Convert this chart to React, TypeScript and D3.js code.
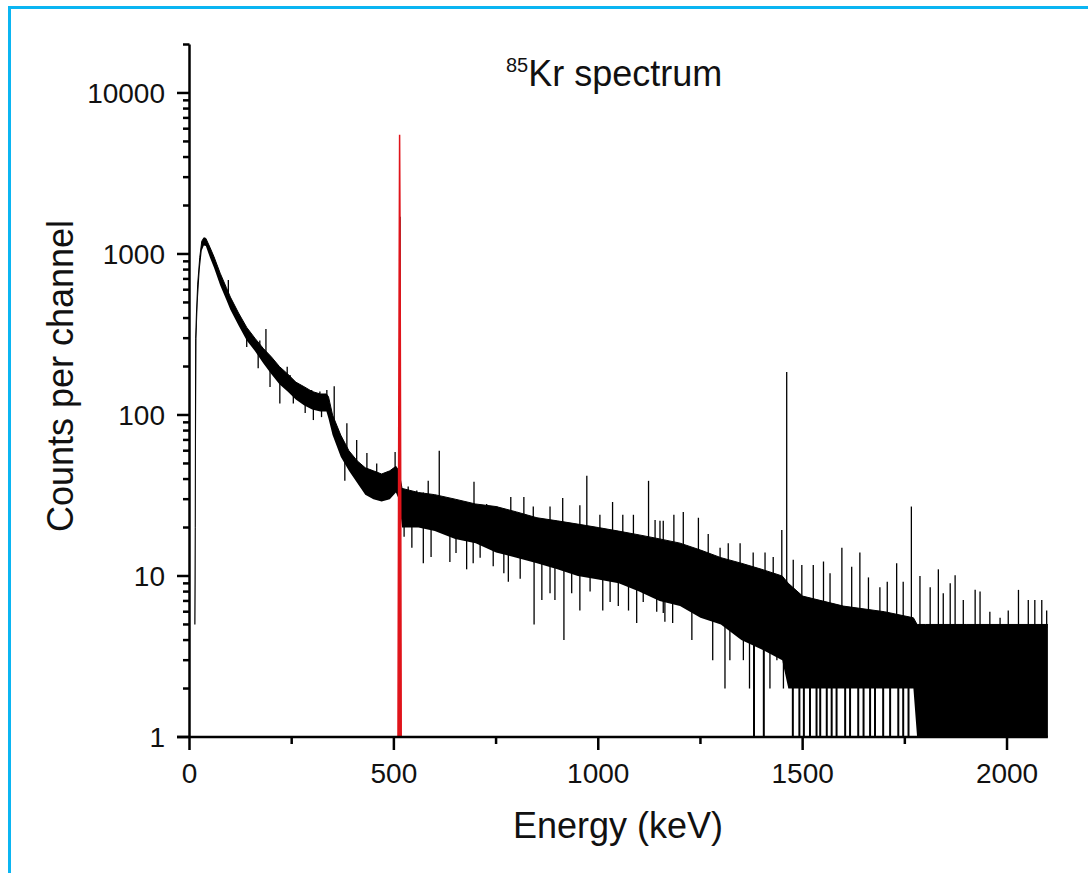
import React from "react";
import * as d3 from "d3";

// ---- Data ----
// Dense core band of the spectrum: energy (keV), lower and upper edge (counts per channel)
const bandE = [13, 14, 15, 17, 20, 25, 30, 35, 40, 50, 60, 75, 90, 100, 120, 140, 160, 180, 200, 220, 240, 260, 280, 300, 320, 335, 340, 350, 370, 390, 410, 430, 450, 470, 490, 505, 512, 520, 560, 600, 650, 700, 750, 800, 850, 900, 950, 1000, 1050, 1100, 1150, 1200, 1250, 1300, 1350, 1400, 1450, 1465, 1500, 1600, 1700, 1771, 1780, 1800, 1900, 2000, 2100];
const bandLo = [5, 5, 20, 300, 500, 800, 1050, 1130, 1120, 950, 820, 640, 520, 450, 360, 290, 250, 210, 180, 155, 140, 125, 115, 108, 105, 105, 95, 75, 55, 45, 38, 32, 30, 29, 30, 33, 30, 20, 20, 19, 17, 16, 14, 13, 12, 11, 10, 9.5, 9, 8, 7, 6.5, 5.5, 5, 4, 3.5, 3, 2, 2, 2, 2, 2, 1, 1, 1, 1, 1];
const bandHi = [5, 20, 300, 430, 650, 950, 1200, 1260, 1250, 1100, 960, 760, 620, 540, 430, 350, 300, 260, 230, 200, 180, 160, 150, 140, 135, 135, 130, 100, 75, 60, 52, 47, 45, 43, 45, 48, 45, 35, 33, 32, 30, 28, 27, 25, 23, 22, 21, 20, 19, 18, 17, 16, 14.5, 13, 12, 11, 10, 9, 7.5, 6.5, 6, 5.5, 5, 5, 5, 5, 5];

// Single channels rising above the band: energy (keV), counts
const upE = [95, 172, 187, 239, 246, 262, 299, 319, 336, 354, 385, 409, 434, 458, 503, 515,
  535, 556, 572, 584, 611, 629, 654, 678, 696, 727, 752, 786, 818, 841, 882, 913, 955, 972, 1004, 1035, 1060, 1086, 1123, 1139, 1151, 1159, 1185,
  1208, 1245, 1269, 1298, 1318, 1347, 1379, 1408, 1428, 1449, 1461, 1477, 1498, 1526, 1551, 1567, 1596, 1620, 1640, 1661, 1689, 1707, 1730, 1746, 1766,
  1787, 1812, 1832, 1844, 1861, 1873, 1893, 1922, 1934, 1958, 1983, 2003, 2028, 2052, 2068, 2085, 2097];
const upV = [690, 290, 342, 199, 177, 158, 143, 140, 143, 151, 89, 70, 58, 50, 59, 1700,
  36, 34, 33, 39, 60, 30, 29, 28, 38.5, 28, 27, 31, 31, 27, 27, 30.5, 27.5, 42, 24, 28.8, 24, 24, 39, 22.3, 22, 22, 24,
  25, 23, 18.2, 15, 16, 16, 14, 14, 13.1, 19.3, 185, 12.6, 11.7, 11.7, 12.3, 10.4, 15, 11.4, 14, 9.8, 8.5, 9.2, 12, 9.2, 27,
  10, 8.5, 11, 7.8, 9, 10.1, 7.1, 8.2, 8, 6, 5.5, 6.1, 8.2, 7.1, 7.1, 7.1, 6.1];

// Single channels dropping below the band: energy (keV), counts
const downE = [140, 168, 197, 221, 254, 283, 303, 323, 352, 380,
  525, 544, 572, 591, 637, 652, 678, 694, 711, 743, 769, 780, 809, 843, 862, 882, 894, 916, 935, 955, 980, 1011, 1029, 1049, 1074, 1094, 1110, 1143, 1159, 1163, 1182,
  1229, 1280, 1310, 1322, 1355, 1370, 1381, 1405, 1420, 1437, 1453,
  1476, 1492, 1503, 1518, 1534, 1543, 1559, 1571, 1583, 1604, 1616, 1636, 1649, 1665, 1677, 1697, 1714, 1734, 1746, 1759];
const downV = [264, 195, 149, 118, 118, 103, 93, 97, 77, 39,
  17.5, 15, 12, 13.1, 12.2, 13.9, 11, 12, 13, 11.5, 10.4, 9.2, 9.6, 5, 7.1, 7.8, 7.1, 4, 7.8, 6.1, 8, 6.1, 6.9, 6.5, 6.1, 5.1, 6.9, 6, 5.9, 5.2, 5.1,
  4, 3, 2, 3, 3, 2, 1, 1, 2, 3, 2,
  1, 1, 1, 1, 1, 1, 1, 1, 1, 1, 1, 1, 1, 1, 1, 1, 1, 1, 1, 1];

// 514 keV peak, highlighted in red
const peakE = [510, 511.5, 513, 514, 515, 516.5, 518];
const peakV = [1, 40, 900, 5500, 1500, 60, 1];

const xTicksMajor = [0, 500, 1000, 1500, 2000];
const xTicksMinor = [250, 750, 1250, 1750];
const yTicksMajor = [1, 10, 100, 1000, 10000];

const FONT = "'Liberation Sans', Arial, sans-serif";

export default function App() {
  const W = 1088, H = 873;
  const x = d3.scaleLinear().domain([0, 2100]).range([189.5, 1047.9]);
  const y = d3.scaleLog().domain([1, 20000]).range([737, 44.5]);

  const band = bandE.map((e, i) => ({ e, lo: bandLo[i], hi: bandHi[i] }));
  const area = d3.area<any>().x(d => x(d.e)).y0(d => y(d.lo)).y1(d => y(d.hi));
  const hiLine = d3.line<any>().x(d => x(d.e)).y(d => y(d.hi));
  const hiAt = d3.scaleLinear().domain(bandE).range(bandHi);
  const loAt = d3.scaleLinear().domain(bandE).range(bandLo);

  const peak = peakE.map((e, i) => ({ e, v: peakV[i] }));
  const peakArea = d3.area<any>().x(d => x(d.e)).y0(y(1)).y1(d => y(d.v));

  const yMinor: number[] = [];
  for (let k = 0; k <= 4; k++) {
    for (let m = 2; m <= 9; m++) {
      const v = m * Math.pow(10, k);
      if (v <= 20000) yMinor.push(v);
    }
  }

  return (
    <svg width={W} height={H} style={{ position: "absolute", left: 0, top: 0, background: "#fff" }} fontFamily={FONT}>
      <rect x={0} y={0} width={W} height={H} fill="#fff" />
      <rect x={9.5} y={7.5} width={1200} height={1000} fill="none" stroke="#0BB5F2" strokeWidth={3} />

      {/* spectrum */}
      <path d={area(band) || ""} fill="#000" />
      <path d={hiLine(band) || ""} fill="none" stroke="#000" strokeWidth={1} />
      {upE.map((e, i) => (
        <line key={"u" + i} x1={x(e)} x2={x(e)} y1={y(Math.min(hiAt(e), upV[i]) * 0.95)} y2={y(upV[i])} stroke="#000" strokeWidth={1.3} />
      ))}
      {downE.map((e, i) => (
        <line key={"d" + i} x1={x(e)} x2={x(e)} y1={y(loAt(e) * 1.05)} y2={y(downV[i])} stroke="#000" strokeWidth={downV[i] <= 1 ? 2 : 1.3} />
      ))}

      {/* red peak */}
      <path d={peakArea(peak) || ""} fill="#E0141B" stroke="#E0141B" strokeWidth={1.5} />

      {/* axes */}
      <line x1={189.5} x2={189.5} y1={y(20000)} y2={737} stroke="#000" strokeWidth={2.5} />
      <line x1={177} x2={x(2100)} y1={737} y2={737} stroke="#000" strokeWidth={2.5} />
      {yTicksMajor.map(v => (
        <g key={"ym" + v}>
          <line x1={177} x2={189.5} y1={y(v)} y2={y(v)} stroke="#000" strokeWidth={2.5} />
          <text x={165} y={y(v)} dy="0.36em" textAnchor="end" fontSize={28} fill="#111">{v}</text>
        </g>
      ))}
      {yMinor.map(v => (
        <line key={"yn" + v} x1={183} x2={189.5} y1={y(v)} y2={y(v)} stroke="#000" strokeWidth={2.5} />
      ))}
      {xTicksMajor.map(v => (
        <g key={"xm" + v}>
          <line x1={x(v)} x2={x(v)} y1={737} y2={750} stroke="#000" strokeWidth={2.5} />
          <text x={x(v)} y={783} textAnchor="middle" fontSize={28} fill="#111">{v}</text>
        </g>
      ))}
      {xTicksMinor.map(v => (
        <line key={"xn" + v} x1={x(v)} x2={x(v)} y1={737} y2={744} stroke="#000" strokeWidth={2.5} />
      ))}

      {/* titles */}
      <text x={506} y={86} fontSize={36} fill="#111">
        <tspan fontSize={20} dy={-14}>85</tspan>
        <tspan dy={14}>Kr spectrum</tspan>
      </text>
      <text x={618} y={838} textAnchor="middle" fontSize={36} fill="#111">Energy (keV)</text>
      <text transform="translate(73,376) rotate(-90)" textAnchor="middle" fontSize={36} fill="#111">Counts per channel</text>
    </svg>
  );
}
